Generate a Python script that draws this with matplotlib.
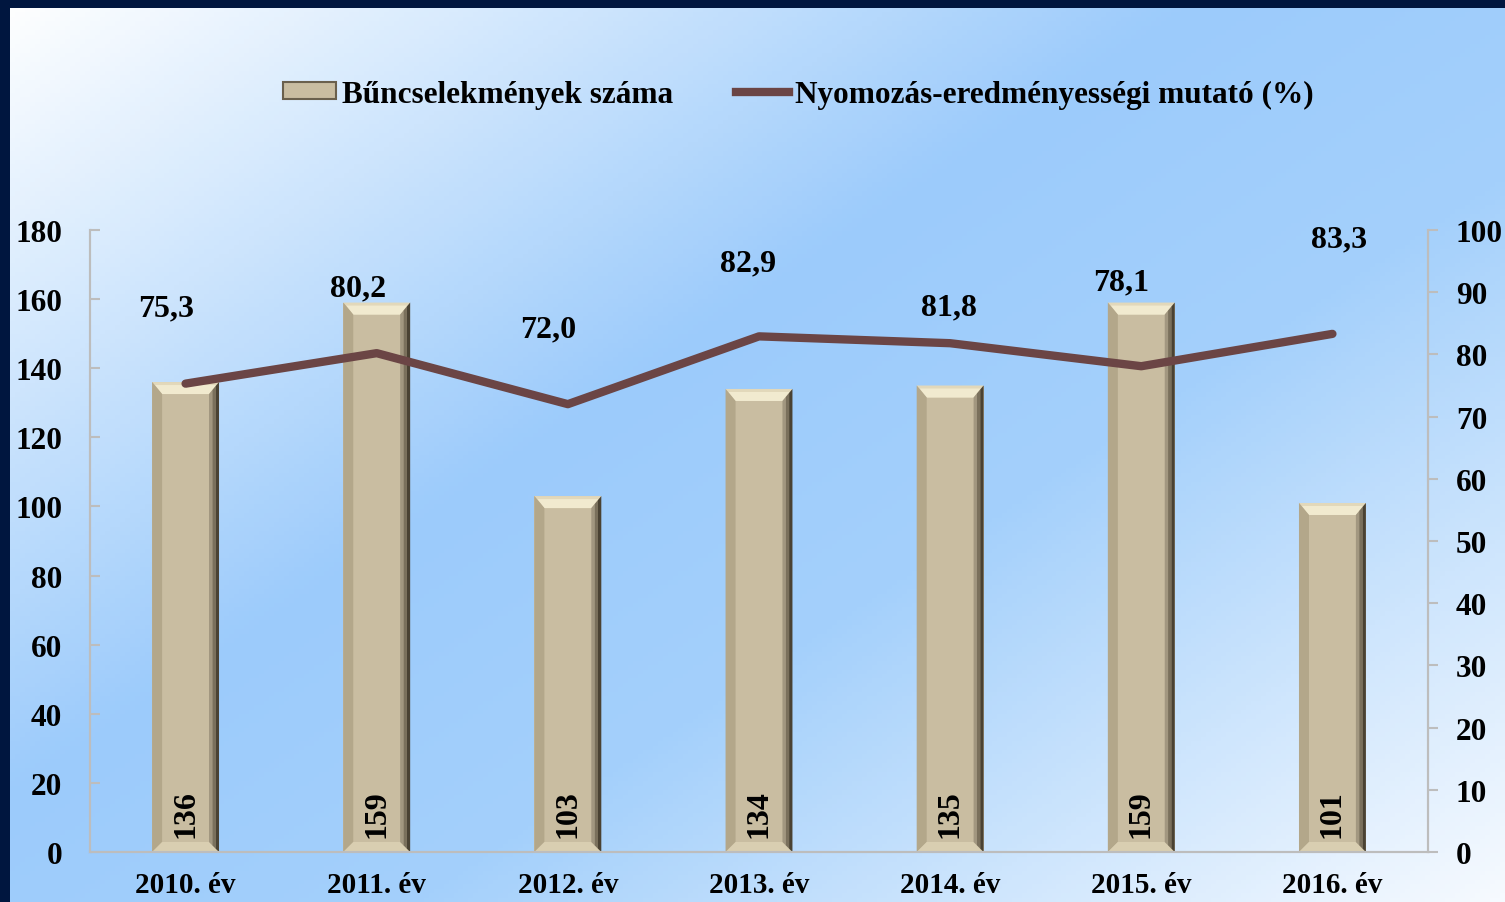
import numpy as np
import matplotlib
matplotlib.use("Agg")
import matplotlib.pyplot as plt
from matplotlib.colors import LinearSegmentedColormap
from matplotlib.patches import Polygon, Rectangle
from matplotlib.lines import Line2D

# adatok
years = ["2010. év", "2011. év", "2012. év", "2013. év", "2014. év", "2015. év", "2016. év"]
crimes = [136, 159, 103, 134, 135, 159, 101]
rate = [75.3, 80.2, 72.0, 82.9, 81.8, 78.1, 83.3]
rate_labels = ["75,3", "80,2", "72,0", "82,9", "81,8", "78,1", "83,3"]
# címkék eltolása pixelben (x, y)
label_offsets = [(-19, 76), (-19, 65), (-20, 75), (-11, 73), (-1, 36), (-20, 84), (7, 95)]

plt.rcParams['font.family'] = ['Liberation Serif', 'DejaVu Serif']
plt.rcParams['font.weight'] = 'bold'

W, H = 1505, 903
fig = plt.figure(figsize=(W / 100, H / 100), dpi=100, facecolor='#00163F')

# háttér színátmenet
bg = fig.add_axes([10 / W, 0, 1 - 10 / W, 1 - 9 / H], zorder=-10)
xx, yy = np.meshgrid(np.linspace(10, W, 300), np.linspace(9, H, 200))
t = (xx + 1.5 * yy) / (W + 1.5 * H)
cmap = LinearSegmentedColormap.from_list('bg', [(0, '#FFFFFF'), (0.42, '#9CCBFB'),
                                                (0.62, '#A4D0FB'), (1.0, '#F6FAFF')])
bg.imshow(t, cmap=cmap, aspect='auto', extent=[0, 1, 0, 1], vmin=0, vmax=1)
bg.axis('off')

ax = fig.add_axes([90 / W, 1 - 853 / H, (1428 - 90) / W, (853 - 231) / H])
ax.set_facecolor('none')
x = np.arange(len(years))
ax.set_xlim(-0.5, len(years) - 0.5)
ax.set_ylim(0, 180)
ax.set_yticks(np.arange(0, 181, 20))
ax.set_xticks(x)
ax.set_xticklabels(years, fontsize=21)

face = '#C9BDA1'
bars = ax.bar(x, crimes, width=0.35, color=face, edgecolor='none', zorder=2)

# domború (bevel) hatás a sávokon
inv = ax.transData.inverted()
for b in bars:
    x0, y0 = ax.transData.transform((b.get_x(), 0))
    x1, y1 = ax.transData.transform((b.get_x() + b.get_width(), b.get_height()))
    s, tp, bt = 10, 12, 10

    def poly(pts, col):
        ax.add_patch(Polygon(inv.transform(pts), closed=True, facecolor=col,
                             edgecolor='none', zorder=3))
    poly([(x0, y1), (x1, y1), (x1 - s, y1 - tp), (x0 + s, y1 - tp)], '#E2D8BA')
    poly([(x0 + 3, y1 - 3), (x1 - 3, y1 - 3), (x1 - s, y1 - tp), (x0 + s, y1 - tp)], '#F1EACF')
    poly([(x0, y0), (x0, y1), (x0 + s, y1 - tp), (x0 + s, y0 + bt)], '#B3A78A')
    poly([(x0, y0), (x1, y0), (x1 - s, y0 + bt), (x0 + s, y0 + bt)], '#D9CEB1')
    for k, col in enumerate(['#A29780', '#7A705C', '#4A4233']):
        a = s * (1 - k / 3)
        c = s * (1 - (k + 1) / 3)
        poly([(x1 - a, y0 + bt * a / s), (x1 - a, y1 - tp * a / s),
              (x1 - c, y1 - tp * c / s), (x1 - c, y0 + bt * c / s)], col)

for xi, v in zip(x, crimes):
    ax.annotate(str(v), (xi, 0), xytext=(0, 15), textcoords='offset pixels',
                rotation=90, ha='center', va='bottom', fontsize=23, zorder=5)

for side in ['left', 'right', 'bottom']:
    ax.spines[side].set_color('#BDBDBD')
    ax.spines[side].set_linewidth(1.5)
ax.spines['top'].set_visible(False)
ax.tick_params(axis='y', direction='in', length=7, width=1.5, color='#BDBDBD',
               pad=20, labelsize=22.5)
ax.tick_params(axis='x', length=0, pad=14)

ax2 = ax.twinx()
ax2.set_ylim(0, 100)
ax2.set_yticks(np.arange(0, 101, 10))
ax2.plot(x, rate, color='#6B4545', lw=6, solid_capstyle='round', zorder=4)
for xi, v, lab, (dx, dy) in zip(x, rate, rate_labels, label_offsets):
    ax2.annotate(lab, (xi, v), xytext=(dx, dy), textcoords='offset pixels',
                 ha='center', va='center', fontsize=23)
for side in ['left', 'right', 'bottom']:
    ax2.spines[side].set_color('#BDBDBD')
    ax2.spines[side].set_linewidth(1.5)
ax2.spines['top'].set_visible(False)
ax2.tick_params(axis='y', direction='out', length=7, width=1.5, color='#BDBDBD',
                pad=13, labelsize=22.5)

handles = [Rectangle((0, 0), 1, 1, facecolor=face, edgecolor='#6A604D', lw=1.5),
           Line2D([], [], color='#6B4545', lw=6)]
fig.legend(handles, ['Bűncselekmények száma', 'Nyomozás-eredményességi mutató (%)'],
           loc='center', bbox_to_anchor=(798 / W, 1 - 95 / H), ncol=2, frameon=False,
           fontsize=22.5, handlelength=1.7, handleheight=0.45, handletextpad=0.2,
           columnspacing=2.0)

fig.savefig('out.png', dpi=100, facecolor=fig.get_facecolor())
